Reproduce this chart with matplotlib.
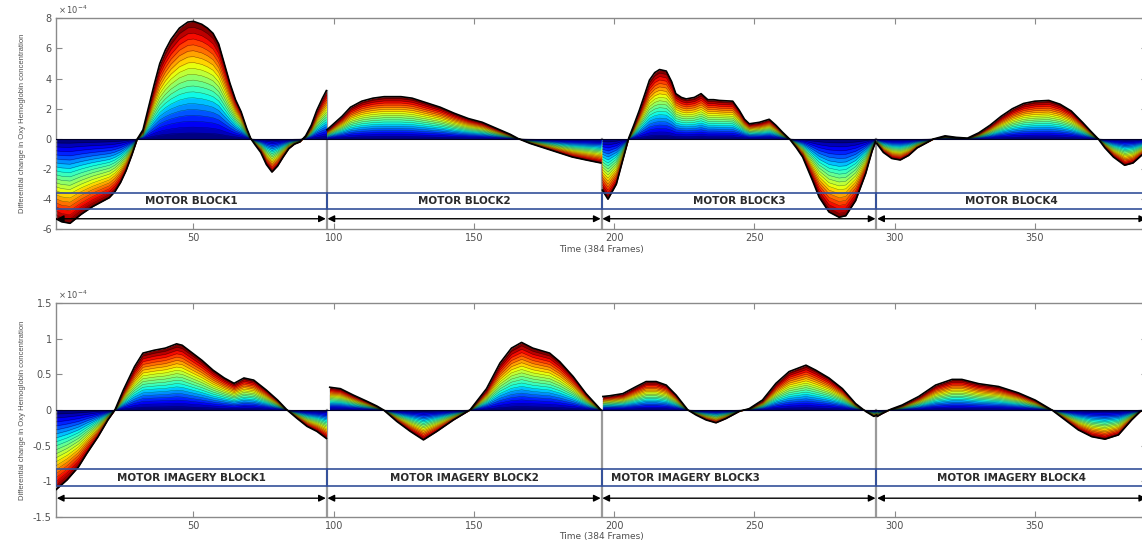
import numpy as np
import matplotlib
matplotlib.use("Agg")
import matplotlib.pyplot as plt
from matplotlib.patches import Rectangle

# ---- Oxy-haemoglobin change (units of 1e-4), motor execution task ----
motor_b1_x = [1, 3, 6, 10, 14, 17, 20, 22, 24, 26, 28, 30, 32, 34, 36, 38, 40, 42, 45, 48,
              50, 53, 55, 57, 59, 61, 63, 65, 67, 69, 70.5, 72, 74, 76, 78, 80, 82, 84, 86,
              88, 90, 92, 94, 96, 97.4]
motor_b1_y = [-5.3, -5.5, -5.6, -5.0, -4.5, -4.2, -3.9, -3.5, -2.9, -2.1, -1.1, 0.0, 0.6, 2.1,
              3.6, 5.0, 5.9, 6.6, 7.35, 7.75, 7.8, 7.6, 7.35, 7.0, 6.3, 5.0, 3.7, 2.6, 1.8,
              0.7, 0.0, -0.4, -0.9, -1.7, -2.2, -1.8, -1.2, -0.65, -0.35, -0.2, 0.2, 0.9,
              1.9, 2.7, 3.2]
motor_b2_x = [97.6, 100, 103, 106, 110, 114, 118, 124, 128, 133, 138, 143, 148, 153, 158,
              163, 166, 170, 175, 180, 185, 190, 195.3]
motor_b2_y = [0.6, 1.0, 1.5, 2.1, 2.5, 2.7, 2.8, 2.8, 2.7, 2.4, 2.1, 1.7, 1.35, 1.1, 0.7,
              0.3, 0.0, -0.3, -0.6, -0.9, -1.2, -1.4, -1.6]
motor_b3_x = [195.8, 197.8, 200.8, 203.1, 205.3, 207, 209, 211, 212.6, 214.5, 216.2, 218.6,
              220.5, 222, 224, 225.7, 228.6, 231, 233.4, 235.5, 237.5, 242.3, 244.6, 246.5,
              248.2, 251.8, 255.3, 257.7, 260, 262.5, 265, 267.2, 270.7, 273.1, 276.6,
              280.2, 282.6, 286.1, 289.7, 292, 293.2]
motor_b3_y = [-3.4, -4.0, -3.0, -1.4, 0.1, 0.9, 1.9, 3.0, 3.9, 4.4, 4.6, 4.5, 3.8, 3.0,
              2.75, 2.65, 2.75, 3.0, 2.6, 2.6, 2.55, 2.5, 1.9, 1.3, 1.0, 1.1, 1.3, 0.9,
              0.45, 0.0, -0.6, -1.2, -2.75, -3.87, -4.85, -5.2, -5.1, -4.1, -2.3, -0.8, -0.2]
motor_b4_x = [293.6, 296, 299, 302, 305, 308, 311, 314, 318, 322, 326, 330, 334, 338, 342,
              346, 350, 355, 359, 363, 367, 370, 372.6, 375, 378, 382, 385, 388, 390]
motor_b4_y = [-0.3, -0.9, -1.3, -1.4, -1.1, -0.6, -0.3, 0.0, 0.2, 0.1, 0.05, 0.4, 0.9, 1.5,
              2.0, 2.35, 2.5, 2.55, 2.3, 1.85, 1.1, 0.5, 0.0, -0.6, -1.2, -1.75, -1.6,
              -1.1, -0.8]

# ---- Oxy-haemoglobin change (units of 1e-4), motor imagery task ----
imag_b1_x = [1, 5, 9, 12, 16, 19.5, 22, 25, 29, 32, 36, 40, 44, 46, 49, 53, 57, 61, 64.5,
             68, 71.5, 76, 80, 83.4, 87, 90.5, 94, 97.4]
imag_b1_y = [-1.12, -0.98, -0.8, -0.61, -0.375, -0.14, 0.0, 0.28, 0.61, 0.8, 0.84, 0.87,
             0.93, 0.91, 0.82, 0.7, 0.56, 0.45, 0.375, 0.45, 0.42, 0.28, 0.14, 0.0, -0.12,
             -0.23, -0.3, -0.4]
imag_b2_x = [98.6, 102.4, 107, 112, 115.4, 117.8, 122.5, 127.3, 132, 136.8, 142.7, 148.6,
             154.5, 159.3, 163.4, 167, 171, 177, 180.6, 185.4, 190, 194.2, 195.3]
imag_b2_y = [0.32, 0.3, 0.21, 0.12, 0.056, 0.0, -0.16, -0.3, -0.42, -0.3, -0.14, 0.0, 0.3,
             0.66, 0.87, 0.95, 0.87, 0.8, 0.68, 0.47, 0.23, 0.05, 0.0]
imag_b3_x = [196, 198.4, 203.1, 207.9, 211.4, 215, 218.6, 222.1, 226.3, 229.2, 232.8, 236.3,
             239.9, 244.6, 248.2, 252.9, 257.7, 262.4, 268.4, 271.9, 276.6, 281.4, 286.1,
             289.7, 292.6, 293.6]
imag_b3_y = [0.19, 0.2, 0.23, 0.33, 0.4, 0.4, 0.35, 0.21, 0.0, -0.07, -0.14, -0.18, -0.12,
             -0.02, 0.02, 0.14, 0.375, 0.54, 0.63, 0.56, 0.45, 0.3, 0.09, -0.02, -0.09, -0.07]
imag_b4_x = [293.8, 295.6, 298.6, 302.7, 308.6, 314.6, 320.5, 324, 330, 337.1, 344.2, 350.1,
             356.1, 360.8, 365.5, 370.3, 375, 379.8, 384.5, 387.6, 390]
imag_b4_y = [-0.09, -0.05, 0.01, 0.07, 0.19, 0.35, 0.43, 0.43, 0.37, 0.33, 0.24, 0.14, 0.0,
             -0.14, -0.28, -0.375, -0.41, -0.35, -0.14, -0.02, 0.0]

# block layout (frames)
block_edges = [1, 97.5, 195.5, 293.5, 390]
motor_labels = ["MOTOR BLOCK1", "MOTOR BLOCK2", "MOTOR BLOCK3", "MOTOR BLOCK4"]
imag_labels = ["MOTOR IMAGERY BLOCK1", "MOTOR IMAGERY BLOCK2",
               "MOTOR IMAGERY BLOCK3", "MOTOR IMAGERY BLOCK4"]

x_ticks = [50, 100, 150, 200, 250, 300, 350]
motor_yticks = [-6, -4, -2, 0, 2, 4, 6, 8]
imag_yticks = [-1.5, -1, -0.5, 0, 0.5, 1, 1.5]
imag_yticklabels = ["-1.5", "-1", "-0.5", "0", "0.5", "1", "1.5"]

n_levels = 20

W, H = 1142, 541
fig = plt.figure(figsize=(W / 100, H / 100), dpi=100)
fig.patch.set_facecolor("white")

left_px, right_px = 56, 1147
ax_top = fig.add_axes([left_px / W, 1 - 229.3 / H, (right_px - left_px) / W, (229.3 - 18.3) / H])
ax_bot = fig.add_axes([left_px / W, 1 - 516.7 / H, (right_px - left_px) / W, (516.7 - 303.3) / H])

cmap = plt.get_cmap("jet")
spine_col = "#8a8a8a"
text_col = "#505050"


def draw_panel(ax, blocks, ylim, yticks, yticklabels, labels, rect_y, arrow_y, label_pos):
    # stacked family of scaled responses, largest (dark red) drawn first
    for bx, by in blocks:
        bx = np.asarray(bx)
        by = np.asarray(by)
        for k in range(n_levels, 0, -1):
            yk = by * k / n_levels
            c = cmap((k - 1) / (n_levels - 1))
            ax.fill_between(bx, 0, yk, color=c, lw=0, zorder=2)
            ax.plot(bx, yk, color="black", lw=0.3, alpha=0.55, zorder=3)
        ax.plot(bx, by, color="black", lw=1.2, zorder=4)
    ax.axhline(0, color="#00002a", lw=0.8, zorder=3.5)

    # block separators
    for i in range(1, 4):
        prev_end = blocks[i - 1][1][-1]
        top = max(0.0, prev_end)
        ax.plot([block_edges[i]] * 2, [ylim[0], top], color="#9a9a9a", lw=1.6, zorder=1)

    # block boxes, captions and span arrows
    for i in range(4):
        x0, x1 = block_edges[i], block_edges[i + 1]
        ax.add_patch(Rectangle((x0, rect_y[0]), x1 - x0, rect_y[1] - rect_y[0],
                               fill=False, edgecolor="#34509a", lw=1.2, zorder=5))
        lx, ha = label_pos[i]
        ax.text(lx, (rect_y[0] + rect_y[1]) / 2, labels[i], ha=ha, va="center",
                fontsize=7.5, fontweight="bold", color="#2a2a2a", zorder=6)
        ax.annotate("", xy=(x1 - 0.3, arrow_y), xytext=(x0 + 0.3, arrow_y),
                    arrowprops=dict(arrowstyle="<|-|>", color="black", lw=1.0,
                                    mutation_scale=10, shrinkA=0, shrinkB=0),
                    zorder=6)

    ax.set_xlim(block_edges[0], block_edges[-1])
    ax.set_ylim(*ylim)
    ax.set_xticks(x_ticks)
    ax.set_xticklabels([str(t) for t in x_ticks])
    ax.set_yticks(yticks)
    ax.set_yticklabels(yticklabels)
    ax.tick_params(direction="in", length=4, width=0.8, color=spine_col,
                   labelsize=7, labelcolor=text_col, top=True, right=True, pad=3)
    for s in ax.spines.values():
        s.set_color(spine_col)
        s.set_linewidth(1.0)
    ax.set_xlabel("Time (384 Frames)", fontsize=6.5, color=text_col, labelpad=1)
    ax.set_ylabel("Differential change in Oxy Hemoglobin concentration",
                  fontsize=5.5, color=text_col, family="Liberation Sans")
    ax.yaxis.set_label_coords(-0.0275, 0.5)
    ax.text(0.002, 1.012, r"$\times\,10^{-4}$", transform=ax.transAxes,
            fontsize=6, color=text_col, ha="left", va="bottom")


motor_blocks = [(motor_b1_x, motor_b1_y), (motor_b2_x, motor_b2_y),
                (motor_b3_x, motor_b3_y), (motor_b4_x, motor_b4_y)]
imag_blocks = [(imag_b1_x, imag_b1_y), (imag_b2_x, imag_b2_y),
               (imag_b3_x, imag_b3_y), (imag_b4_x, imag_b4_y)]

centers = [((block_edges[i] + block_edges[i + 1]) / 2, "center") for i in range(4)]
imag_pos = list(centers)
imag_pos[2] = (block_edges[2] + 3.5, "left")

draw_panel(ax_top, motor_blocks, (-6, 8), motor_yticks, [str(t) for t in motor_yticks],
           motor_labels, (-4.65, -3.58), -5.3, centers)
draw_panel(ax_bot, imag_blocks, (-1.5, 1.5), imag_yticks, imag_yticklabels,
           imag_labels, (-1.07, -0.83), -1.24, imag_pos)

fig.savefig("out.png", dpi=100, facecolor="white")
